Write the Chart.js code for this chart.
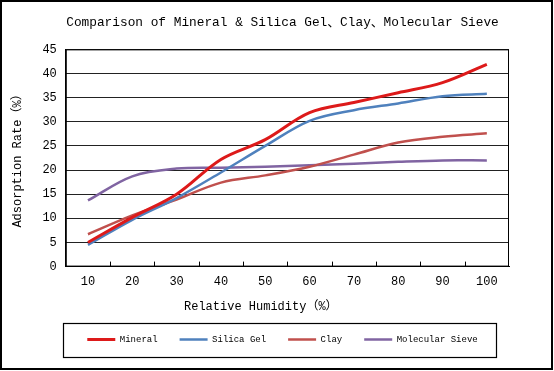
<!DOCTYPE html>
<html>
<head>
<meta charset="utf-8">
<script src="https://cdn.jsdelivr.net/npm/chart.js@4.4.1/dist/chart.umd.min.js"></script>
<style>
    html, body { margin: 0; padding: 0; background: #fff; }
    #wrap { width: 554px; height: 371px; }
</style>
</head>
<body>
<div id="wrap"><canvas id="adsorption-chart" width="554" height="371"></canvas></div>
<script>
// relative humidity (%) on the x axis
const humidity = ["10", "20", "30", "40", "50", "60", "70", "80", "90", "100"];

// adsorption rate (%) per material
const mineral = [5.0, 10.2, 15.0, 22.2, 26.3, 31.9, 34.0, 36.0, 38.1, 41.9];
const silicaGel = [4.5, 9.7, 14.2, 19.5, 25.0, 30.2, 32.4, 33.8, 35.3, 35.8];
const clay = [6.7, 10.6, 13.9, 17.4, 18.9, 20.7, 23.2, 25.7, 26.9, 27.6];
const molecularSieve = [13.7, 18.7, 20.3, 20.5, 20.7, 21.0, 21.3, 21.7, 22.0, 22.0];

const yMin = 0;
const yMax = 45;
const yStep = 5;

const monoFont = "'Liberation Mono', 'Noto Sans CJK SC', monospace";
const xTitle = "Relative Humidity（%）";

// frame around the plot, inner tick marks, legend box and outer border
const decorations = {
    id: "decorations",
    afterDraw(chart) {
        const ctx = chart.ctx;
        const area = chart.chartArea;
        const x = chart.scales.x;

        ctx.save();
        ctx.strokeStyle = "#000";
        ctx.lineWidth = 1;
        ctx.strokeRect(area.left + 0.5, area.top + 0.5, area.width - 1, area.height - 1);

        // small ticks between categories, pointing up into the plot
        ctx.beginPath();
        for (let i = 1; i < humidity.length; i++) {
            const px = Math.round((x.getPixelForValue(i - 1) + x.getPixelForValue(i)) / 2) + 0.5;
            ctx.moveTo(px, area.bottom);
            ctx.lineTo(px, area.bottom - 5);
        }
        ctx.stroke();

        // x axis caption
        ctx.fillStyle = "#000";
        ctx.font = "12px " + monoFont;
        ctx.textAlign = "center";
        ctx.textBaseline = "middle";
        ctx.fillText(xTitle, area.left + area.width * 0.44, x.bottom - 6);

        // box round the legend
        const boxes = chart.legend.legendHitBoxes;
        if (boxes && boxes.length) {
            const left = Math.min(...boxes.map(b => b.left)) - 24;
            const right = Math.max(...boxes.map(b => b.left + b.width)) + 19;
            const mid = boxes[0].top + boxes[0].height / 2;
            ctx.lineWidth = 1.2;
            ctx.strokeRect(Math.round(left) + 0.5, Math.round(mid - 17) + 0.5, Math.round(right - left), 34);
        }

        ctx.lineWidth = 2;
        ctx.strokeRect(1, 1, chart.width - 3, chart.height - 3);
        ctx.restore();
    }
};

function makeSeries(label, data, color, width) {
    return {
        label: label,
        data: data,
        borderColor: color,
        backgroundColor: color,
        borderWidth: width,
        pointRadius: 0,
        tension: 0.35,
        fill: false
    };
}

new Chart(document.getElementById("adsorption-chart"), {
    type: "line",
    data: {
        labels: humidity,
        datasets: [
            makeSeries("Mineral", mineral, "#dd1a1a", 3),
            makeSeries("Silica Gel", silicaGel, "#4f81bd", 2.5),
            makeSeries("Clay", clay, "#c0504d", 2.5),
            makeSeries("Molecular Sieve", molecularSieve, "#8064a2", 2.5)
        ]
    },
    options: {
        responsive: false,
        devicePixelRatio: 1,
        animation: false,
        layout: {
            padding: { left: 11, right: 0, top: 0, bottom: 17 }
        },
        plugins: {
            title: {
                display: true,
                text: "Comparison of Mineral & Silica Gel、Clay、Molecular Sieve",
                color: "#000",
                font: { family: monoFont, size: 12.8, weight: "normal" },
                padding: { top: 15, bottom: 19 }
            },
            legend: {
                position: "bottom",
                labels: {
                    color: "#000",
                    font: { family: monoFont, size: 9 },
                    usePointStyle: true,
                    pointStyle: "line",
                    pointStyleWidth: 28,
                    boxHeight: 9,
                    padding: 22
                }
            },
            tooltip: { enabled: false }
        },
        scales: {
            x: {
                offset: true,
                afterFit(scale) {
                    scale.height += 16;
                },
                grid: {
                    display: false,
                    drawTicks: false
                },
                border: { color: "#000", width: 1 },
                ticks: {
                    color: "#000",
                    font: { family: monoFont, size: 12 },
                    padding: 8,
                    maxRotation: 0
                }
            },
            y: {
                min: yMin,
                max: yMax,
                grid: {
                    color: "#222",
                    lineWidth: 1,
                    drawTicks: false
                },
                border: { color: "#000", width: 1 },
                ticks: {
                    stepSize: yStep,
                    color: "#000",
                    font: { family: monoFont, size: 12 },
                    padding: 9
                },
                title: {
                    display: true,
                    text: "Adsorption Rate（%）",
                    color: "#000",
                    font: { family: monoFont, size: 12 },
                    padding: { top: 0, bottom: 8 }
                }
            },
            // empty right-hand axis that only keeps the white margin on the right
            spacer: {
                type: "linear",
                position: "right",
                display: true,
                grid: { display: false, drawTicks: false },
                border: { display: false },
                ticks: { display: false },
                afterFit(scale) {
                    scale.width = 45;
                }
            }
        }
    },
    plugins: [decorations]
});
</script>
</body>
</html>
